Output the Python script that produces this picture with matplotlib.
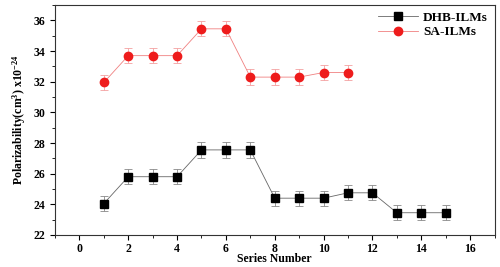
import matplotlib
matplotlib.use("Agg")
import matplotlib.pyplot as plt
from matplotlib.ticker import MultipleLocator
from matplotlib.lines import Line2D

dhb_x = list(range(1, 16))
dhb_y = [24.05, 25.8, 25.8, 25.8, 27.55, 27.55, 27.55, 24.4, 24.4, 24.4, 24.75, 24.75, 23.45, 23.45, 23.45]
sa_x = list(range(1, 12))
sa_y = [31.95, 33.7, 33.7, 33.7, 35.45, 35.45, 32.3, 32.3, 32.3, 32.6, 32.6]
err = 0.5

plt.rcParams['font.family'] = ['Liberation Serif', 'DejaVu Serif']
plt.rcParams['font.weight'] = 'bold'
plt.rcParams['mathtext.fontset'] = 'custom'
plt.rcParams['mathtext.rm'] = 'Liberation Serif:bold'
plt.rcParams['mathtext.bf'] = 'Liberation Serif:bold'
plt.rcParams['mathtext.it'] = 'Liberation Serif:bold'
plt.rcParams['mathtext.default'] = 'rm'

fig = plt.figure(figsize=(5, 2.67), dpi=100)
ax = fig.add_axes([0.11, 0.12, 0.879, 0.861])

ax.errorbar(dhb_x, dhb_y, yerr=err, color='#666666', lw=0.6, marker='s', ms=5.5,
            mfc='black', mec='black', ecolor='#888888', elinewidth=0.6, capsize=3, capthick=0.6)
ax.errorbar(sa_x, sa_y, yerr=err, color='#f08080', lw=0.6, marker='o', ms=6,
            mfc='#ee1c1c', mec='#ee1c1c', ecolor='#f4a0a0', elinewidth=0.6, capsize=3, capthick=0.6)

ax.set_xlim(-1, 17)
ax.set_ylim(22, 37)
ax.xaxis.set_major_locator(MultipleLocator(2))
ax.xaxis.set_minor_locator(MultipleLocator(1))
ax.yaxis.set_major_locator(MultipleLocator(2))
ax.yaxis.set_minor_locator(MultipleLocator(1))
ax.tick_params(which='both', direction='out', labelsize=8.5)
ax.tick_params(axis='x', which='major', pad=2)
ax.tick_params(which='major', length=3.5)
ax.tick_params(which='minor', length=2)
for lab in ax.get_xticklabels() + ax.get_yticklabels():
    lab.set_fontweight('bold')
for s in ax.spines.values():
    s.set_linewidth(0.8)
    s.set_color('#333333')

ax.set_xlabel('Series Number', fontsize=8.5, fontweight='bold', labelpad=-1)
ax.set_ylabel('Polarizability(cm$^3$) x10$^{-24}$', fontsize=8.5, fontweight='bold', labelpad=4)

handles = [
    Line2D([], [], color='#666666', lw=0.6, marker='s', ms=5.5, mfc='black', mec='black'),
    Line2D([], [], color='#f08080', lw=0.6, marker='o', ms=6, mfc='#ee1c1c', mec='#ee1c1c'),
]
leg = ax.legend(handles, ['DHB-ILMs', 'SA-ILMs'], loc='upper right', frameon=False,
                fontsize=9.5, handlelength=3, handletextpad=0.4,
                borderaxespad=0.1, labelspacing=0.15)
for t in leg.get_texts():
    t.set_fontweight('bold')

fig.savefig('out.png', dpi=100)
